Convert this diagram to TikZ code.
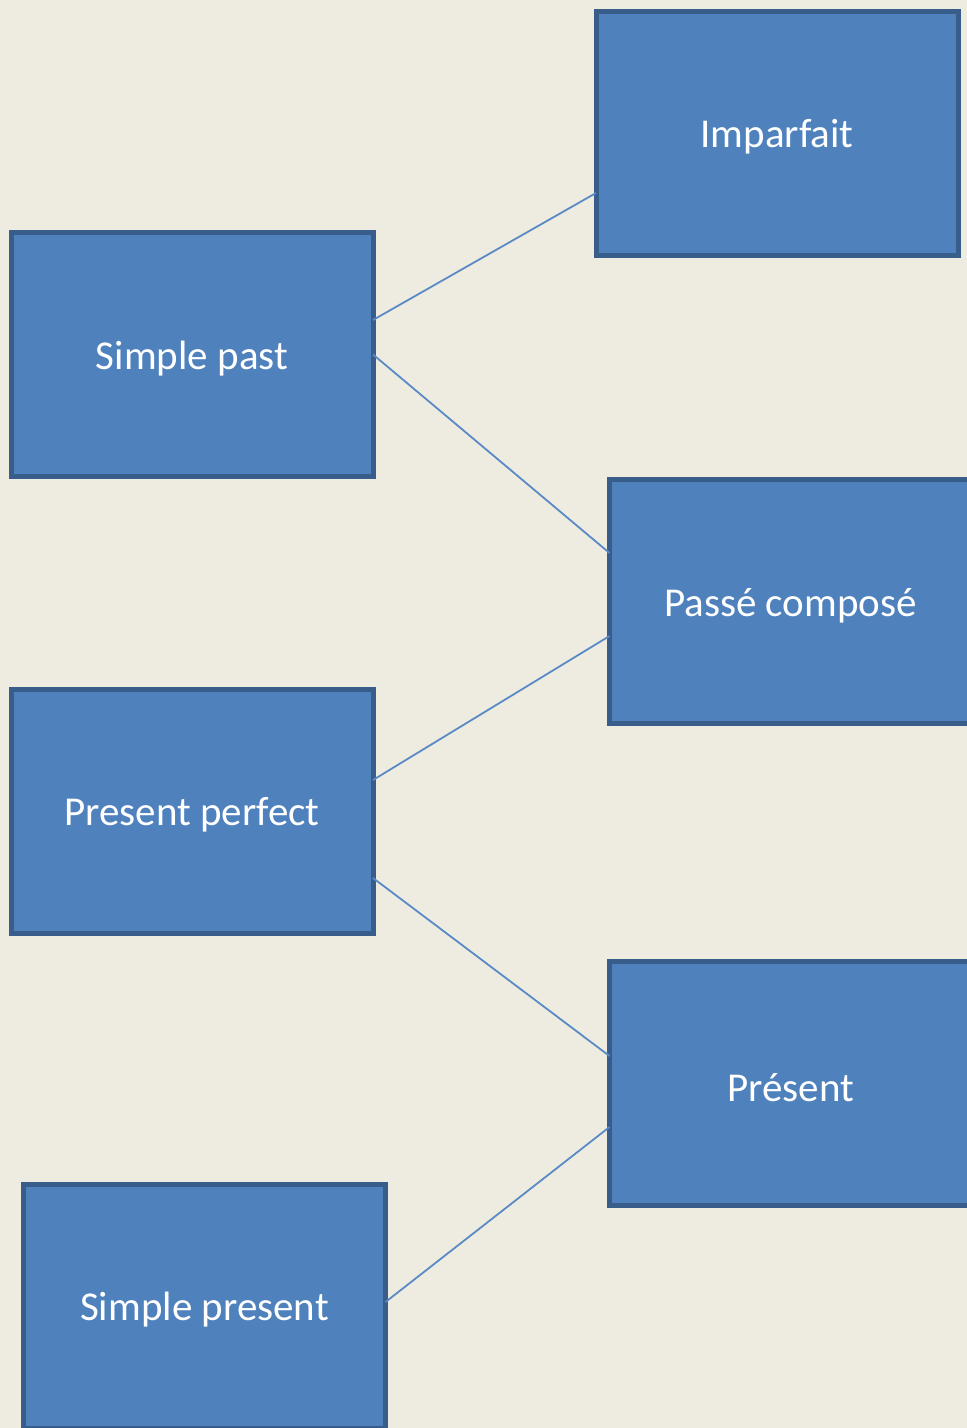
\documentclass[tikz,border=0pt]{standalone}
\usepackage{fontspec}
\setmainfont{Carlito}
\definecolor{bg}{HTML}{EEECE1}
\definecolor{boxfill}{HTML}{4F81BD}
\definecolor{boxline}{HTML}{385D8A}
\definecolor{conn}{HTML}{5A8AC6}
\newcommand{\boxlbl}[1]{\raisebox{-4pt}[\height][\depth]{#1}}
\begin{document}
\begin{tikzpicture}[x=1pt,y=-1pt,
  tbox/.style={rectangle, draw=boxline, fill=boxfill, line width=5pt,
    minimum width=362pt, minimum height=244pt, outer sep=0pt, inner sep=0pt,
    text=white, font=\fontsize{41}{48}\selectfont},
  conn/.style={draw=conn, line width=1.8pt}]
\useasboundingbox (0,0) rectangle (967,1428);
\clip (0,0) rectangle (967,1428);
\fill[bg] (0,0) rectangle (967,1428);
\node[tbox] (imp) at (777,133) {\boxlbl{Imparfait}};
\node[tbox] (sp) at (192,354.5) {\boxlbl{Simple past}};
\node[tbox] (pc) at (790.5,601.5) {\boxlbl{Passé composé}};
\node[tbox] (pp) at (192,811) {\boxlbl{Present perfect}};
\node[tbox] (pr) at (790.5,1083.5) {\boxlbl{Présent}};
\node[tbox] (spr) at (204.5,1306) {\boxlbl{Simple present}};
\draw[conn] ([yshift=34.5pt]sp.east) -- ([yshift=-60pt]imp.west);
\draw[conn] (sp.east) -- ([yshift=48.5pt]pc.west);
\draw[conn] ([yshift=31pt]pp.east) -- ([yshift=-34.5pt]pc.west);
\draw[conn] ([yshift=-67pt]pp.east) -- ([yshift=27.5pt]pr.west);
\draw[conn] ([yshift=4pt]spr.east) -- ([yshift=-43.5pt]pr.west);
\end{tikzpicture}
\end{document}
